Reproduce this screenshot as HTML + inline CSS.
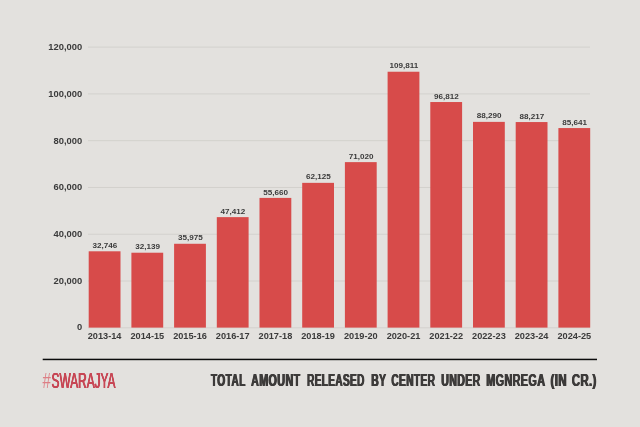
<!DOCTYPE html>
<html lang="en"><head><meta charset="utf-8"><title>Total amount released by center under MGNREGA</title>
<style>
html,body{margin:0;padding:0;}
body{position:relative;width:640px;height:427px;overflow:hidden;background:#e3e1de;font-family:"Liberation Sans",sans-serif;}
svg{display:block;position:absolute;left:0;top:0;}
.ax{font:bold 9.2px "Liberation Sans",sans-serif;fill:#3b3b3b;}
.ay{font:bold 9.4px "Liberation Sans",sans-serif;fill:#3b3b3b;}
.vl{font:bold 8.1px "Liberation Sans",sans-serif;fill:#3b3b3b;}
.ft{position:absolute;white-space:nowrap;line-height:1;margin:0;}
.ttl{left:0;top:0;width:640px;height:18px;font:bold 17.2px/1 "Liberation Sans",sans-serif;color:#3d3b3a;text-shadow:0.75px 0 0 #3d3b3a,-0.75px 0 0 #3d3b3a;}
.ttl span{letter-spacing:0.6px;position:absolute;top:0;left:0;display:block;transform-origin:0 0;}
.hash{left:0;top:0;font:normal 21.8px/1 "Liberation Sans",sans-serif;color:#dd7f85;transform-origin:0 0;transform:translate(42.6px,370.1px) scaleX(0.687);}
.brand{left:0;top:0;font:normal 21.8px/1 "Liberation Sans",sans-serif;color:#c74755;text-shadow:0.5px 0 0 #c74755,-0.5px 0 0 #c74755,0 0.2px 0 #c74755;transform-origin:0 0;transform:translate(51.5px,370.1px) scaleX(0.5448);}
</style></head><body>
<svg width="640" height="427" viewBox="0 0 640 427">
<rect width="640" height="427" fill="#e3e1de"/>
<rect x="88" y="327.30" width="502" height="1" fill="#d3d1cd"/>
<text class="ay" x="82.2" y="330" text-anchor="end">0</text>
<rect x="88" y="280.52" width="502" height="1" fill="#d3d1cd"/>
<text class="ay" x="82.2" y="284" text-anchor="end">20,000</text>
<rect x="88" y="233.74" width="502" height="1" fill="#d3d1cd"/>
<text class="ay" x="82.2" y="237" text-anchor="end">40,000</text>
<rect x="88" y="186.96" width="502" height="1" fill="#d3d1cd"/>
<text class="ay" x="82.2" y="190" text-anchor="end">60,000</text>
<rect x="88" y="140.18" width="502" height="1" fill="#d3d1cd"/>
<text class="ay" x="82.2" y="144" text-anchor="end">80,000</text>
<rect x="88" y="93.40" width="502" height="1" fill="#d3d1cd"/>
<text class="ay" x="82.2" y="97" text-anchor="end">100,000</text>
<rect x="88" y="46.62" width="502" height="1" fill="#d3d1cd"/>
<text class="ay" x="82.2" y="50" text-anchor="end">120,000</text>
<rect x="88.70" y="251.30" width="31.8" height="76.30" fill="#d74b4a"/>
<text class="vl" x="104.90" y="248" text-anchor="middle">32,746</text>
<text class="ax" x="104.60" y="339.4" text-anchor="middle">2013-14</text>
<rect x="131.40" y="252.72" width="31.8" height="74.88" fill="#d74b4a"/>
<text class="vl" x="147.60" y="249" text-anchor="middle">32,139</text>
<text class="ax" x="147.30" y="339.4" text-anchor="middle">2014-15</text>
<rect x="174.10" y="243.78" width="31.8" height="83.82" fill="#d74b4a"/>
<text class="vl" x="190.30" y="240" text-anchor="middle">35,975</text>
<text class="ax" x="190.00" y="339.4" text-anchor="middle">2015-16</text>
<rect x="216.80" y="217.13" width="31.8" height="110.47" fill="#d74b4a"/>
<text class="vl" x="233.00" y="214" text-anchor="middle">47,412</text>
<text class="ax" x="232.70" y="339.4" text-anchor="middle">2016-17</text>
<rect x="259.50" y="197.91" width="31.8" height="129.69" fill="#d74b4a"/>
<text class="vl" x="275.70" y="195" text-anchor="middle">55,660</text>
<text class="ax" x="275.40" y="339.4" text-anchor="middle">2017-18</text>
<rect x="302.20" y="182.85" width="31.8" height="144.75" fill="#d74b4a"/>
<text class="vl" x="318.40" y="179" text-anchor="middle">62,125</text>
<text class="ax" x="318.10" y="339.4" text-anchor="middle">2018-19</text>
<rect x="344.90" y="162.12" width="31.8" height="165.48" fill="#d74b4a"/>
<text class="vl" x="361.10" y="159" text-anchor="middle">71,020</text>
<text class="ax" x="360.80" y="339.4" text-anchor="middle">2019-20</text>
<rect x="387.60" y="71.74" width="31.8" height="255.86" fill="#d74b4a"/>
<text class="vl" x="403.80" y="68" text-anchor="middle">109,811</text>
<text class="ax" x="403.50" y="339.4" text-anchor="middle">2020-21</text>
<rect x="430.30" y="102.03" width="31.8" height="225.57" fill="#d74b4a"/>
<text class="vl" x="446.50" y="99" text-anchor="middle">96,812</text>
<text class="ax" x="446.20" y="339.4" text-anchor="middle">2021-22</text>
<rect x="473.00" y="121.88" width="31.8" height="205.72" fill="#d74b4a"/>
<text class="vl" x="489.20" y="118" text-anchor="middle">88,290</text>
<text class="ax" x="488.90" y="339.4" text-anchor="middle">2022-23</text>
<rect x="515.70" y="122.05" width="31.8" height="205.55" fill="#d74b4a"/>
<text class="vl" x="531.90" y="119" text-anchor="middle">88,217</text>
<text class="ax" x="531.60" y="339.4" text-anchor="middle">2023-24</text>
<rect x="558.40" y="128.06" width="31.8" height="199.54" fill="#d74b4a"/>
<text class="vl" x="574.60" y="125" text-anchor="middle">85,641</text>
<text class="ax" x="574.30" y="339.4" text-anchor="middle">2024-25</text>
<rect x="42.7" y="358.7" width="554.3" height="1.5" fill="#0c0c0c"/>
</svg>
<div class="ft hash">#</div><div class="ft brand">SWARAJYA</div>
<div class="ft ttl"><span style="transform:translate(210.88px,372.3px) scaleX(0.5938)">TOTAL</span> <span style="transform:translate(251.10px,372.3px) scaleX(0.6260)">AMOUNT</span> <span style="transform:translate(307.10px,372.3px) scaleX(0.5853)">RELEASED</span> <span style="transform:translate(371.23px,372.3px) scaleX(0.6035)">BY</span> <span style="transform:translate(391.33px,372.3px) scaleX(0.5926)">CENTER</span> <span style="transform:translate(441.22px,372.3px) scaleX(0.6145)">UNDER</span> <span style="transform:translate(486.27px,372.3px) scaleX(0.6287)">MGNREGA</span> <span style="transform:translate(550.50px,372.3px) scaleX(0.6718)">(IN</span> <span style="transform:translate(571.87px,372.3px) scaleX(0.6589)">CR.)</span></div>
</body></html>
